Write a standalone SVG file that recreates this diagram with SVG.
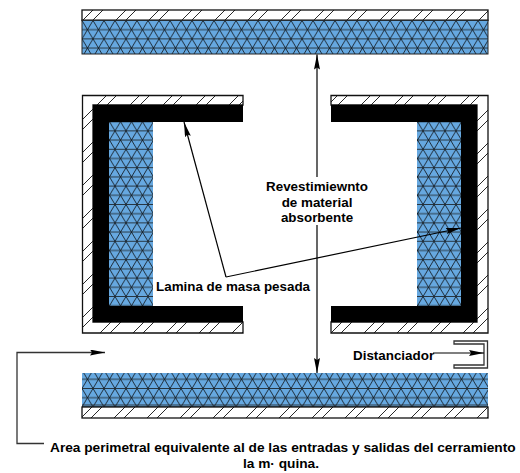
<svg xmlns="http://www.w3.org/2000/svg" width="520" height="473" viewBox="0 0 520 473">
<style>
.l{font:bold 13.4px "Liberation Sans",Arial,sans-serif;fill:#000}
.w{font-size:13.7px}
.m{text-anchor:middle}
.h{fill:url(#hatch);stroke:#111;stroke-width:1.3}
.b{fill:#000}
.t{fill:url(#tri)}
.tb{fill:none;stroke:#222;stroke-width:1}
.c{fill:none;stroke:#000;stroke-width:1.2}
.g{fill:none;stroke:#333;stroke-width:1.3}
</style>
<defs>
<pattern id="hatch" patternUnits="userSpaceOnUse" width="33" height="33">
<path d="M0 4L4 0M0 14L14 0M4 33L33 4M14 33L33 14" stroke="#111" stroke-width=".9" fill="none"/>
</pattern>
<pattern id="tri" patternUnits="userSpaceOnUse" width="11" height="18.4" x="82" y="20">
<rect width="11" height="18.4" fill="#66a8e0"/>
<path d="M0 .5H11M0 9.700H11" stroke="#26343f" stroke-width="1.1"/>
<path d="M0 .5L5.500 9.700L11 .5M0 18.900L5.500 9.700L11 18.900" stroke="#0c1014" stroke-width=".8" fill="none"/>
</pattern>
<marker id="a" markerUnits="userSpaceOnUse" markerWidth="16" markerHeight="8" refX="15" refY="3" orient="auto"><path d="M0 0L15 3L0 6L2 3Z" fill="#000"/></marker>
</defs>
<g id="top-panel">
<rect class="h" x="82" y="10" width="406" height="10.500"/>
<rect class="t" x="82" y="20" width="406" height="34"/>
<rect class="tb" x="82" y="20" width="406" height="34"/>
</g>
<g id="left-enclosure">
<path class="h" d="M243 95.500H82.500V333H243V322H93V105H243Z"/>
<rect class="t" x="109" y="122" width="44" height="184"/>
<path class="b" d="M93 105H243V122H109V306H243V322H93Z"/>
</g>
<g id="right-enclosure">
<path class="h" d="M331 95.500H488V333H331V322H477V105H331Z"/>
<rect class="t" x="417" y="122" width="44" height="184"/>
<path class="b" d="M331 105H477V322H331V306H461V122H331Z"/>
</g>
<g id="bottom-panel">
<rect class="t" x="82" y="373" width="406" height="34"/>
<path d="M82 405H488" stroke="#222" stroke-width=".8"/>
<rect class="h" x="82" y="407" width="406" height="11"/>
</g>
<g id="spacer">
<path class="g" d="M454 341H487.500V368H454V365H484V344H454Z"/>
</g>
<g id="connectors">
<path class="c" d="M317 177V54.500" marker-end="url(#a)"/>
<path class="c" d="M317 225V373" marker-end="url(#a)"/>
<path class="c" d="M226 277L184 122" marker-end="url(#a)"/>
<path class="c" d="M226 277L461 228" marker-end="url(#a)"/>
<path class="c" d="M433 353H484" marker-end="url(#a)"/>
<path class="g" d="M44 443.500H17V352.500H105" marker-end="url(#a)"/>
</g>
<g id="labels">
<text class="l m" x="317" y="191">Revestimiewnto</text>
<text class="l m" x="317" y="207">de material</text>
<text class="l m" x="317" y="222">absorbente</text>
<text class="l" x="156" y="291">Lamina de masa pesada</text>
<text class="l" x="353" y="360">Distanciador</text>
<text class="l w" x="50" y="452">Area perimetral equivalente al de las entradas y salidas del cerramiento</text>
<text class="l w m" x="281" y="468">la m· quina.</text>
</g>
</svg>
